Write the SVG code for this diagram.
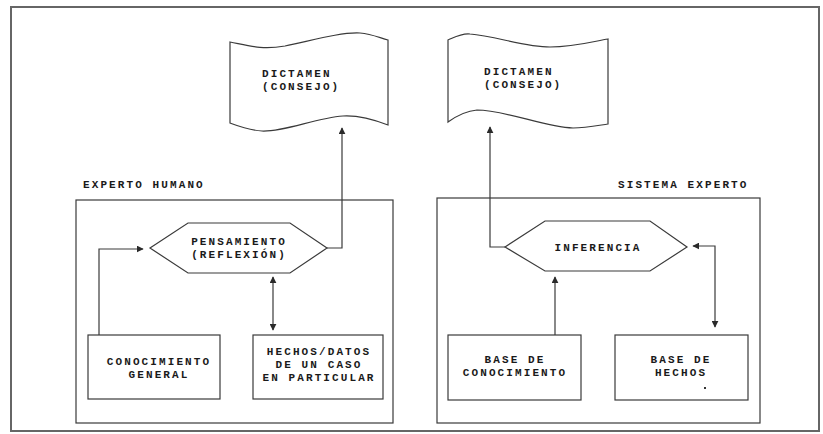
<svg xmlns="http://www.w3.org/2000/svg" width="823" height="434" viewBox="0 0 823 434">
<style>
.ln{fill:none;stroke:#3a3a3a;stroke-width:1.2}
.shp{fill:#fff;stroke:#3a3a3a;stroke-width:1.2}
.t{font-family:"Liberation Mono","DejaVu Sans Mono",monospace;font-weight:bold;font-size:11px;letter-spacing:2.1px;fill:#1a1a1a}
.m{text-anchor:middle}
</style>
<defs>
<marker id="ah" viewBox="0 0 10 10" refX="9" refY="5" markerWidth="7" markerHeight="7" markerUnits="userSpaceOnUse" orient="auto-start-reverse">
<path d="M0,0 L10,5 L0,10 Z" fill="#2a2a2a"/>
</marker>
</defs>
<rect x="11" y="7" width="808" height="424" fill="#fff" stroke="#666" stroke-width="2"/>

<g id="containers">
<rect id="box-humano" class="ln" x="76" y="200" width="317" height="223"/>
<rect id="box-sistema" class="ln" x="437" y="198" width="323" height="225"/>
<text class="t" x="83" y="188">EXPERTO HUMANO</text>
<text class="t" x="618" y="188">SISTEMA EXPERTO</text>
</g>

<g id="dictamen-1">
<path class="shp" d="M230,42 C250,46 262,50 285,46 C310,41 340,32 360,33 C372,34 380,38 388,40 L388,125 C375,120 360,115 343,116 C315,118 285,132 262,131 C248,130 238,126 230,123 Z"/>
<text class="t" x="262" y="77">DICTAMEN</text>
<text class="t" x="262" y="90">(CONSEJO)</text>
</g>

<g id="dictamen-2">
<path class="shp" d="M448,40 C455,37 462,33 470,34 C495,36 525,47 550,47 C575,47 595,41 608,39 L608,124 C595,126 585,128 573,128 C545,127 505,110 477,110 C465,111 455,117 448,122 Z"/>
<text class="t" x="484" y="75">DICTAMEN</text>
<text class="t" x="484" y="88">(CONSEJO)</text>
</g>

<g id="pensamiento">
<polygon class="shp" points="150,248 188,223 290,223 327,248 290,273 188,273"/>
<text class="t m" x="239" y="245">PENSAMIENTO</text>
<text class="t m" x="239" y="258">(REFLEXIÓN)</text>
</g>

<g id="inferencia">
<polygon class="shp" points="505,247 545,221 650,221 687,247 650,271 545,271"/>
<text class="t m" x="598" y="251">INFERENCIA</text>
</g>

<g id="conocimiento-general">
<rect class="shp" x="88" y="335" width="132" height="64"/>
<text class="t m" x="159" y="365">CONOCIMIENTO</text>
<text class="t m" x="159" y="378">GENERAL</text>
</g>

<g id="hechos-datos">
<rect class="shp" x="253" y="335" width="130" height="64"/>
<text class="t m" x="319" y="355">HECHOS/DATOS</text>
<text class="t m" x="319" y="368">DE UN CASO</text>
<text class="t m" x="319" y="381">EN PARTICULAR</text>
</g>

<g id="base-conocimiento">
<rect class="shp" x="448" y="335" width="133" height="65"/>
<text class="t m" x="515" y="363">BASE DE</text>
<text class="t m" x="515" y="376">CONOCIMIENTO</text>
</g>

<g id="base-hechos">
<rect class="shp" x="615" y="335" width="133" height="65"/>
<text class="t m" x="681" y="363">BASE DE</text>
<text class="t m" x="681" y="376">HECHOS</text>
<rect x="704" y="387" width="2" height="2" fill="#333"/>
</g>

<g id="connectors">
<path class="ln" d="M327,248 H342 V128" marker-end="url(#ah)"/>
<path class="ln" d="M99,335 V249 H143" marker-end="url(#ah)"/>
<path class="ln" d="M273,277 V330" marker-start="url(#ah)" marker-end="url(#ah)"/>
<path class="ln" d="M505,247 H490 V127" marker-end="url(#ah)"/>
<path class="ln" d="M555,335 V277" marker-end="url(#ah)"/>
<path class="ln" d="M693,246 H715 V327" marker-start="url(#ah)" marker-end="url(#ah)"/>
</g>
</svg>
